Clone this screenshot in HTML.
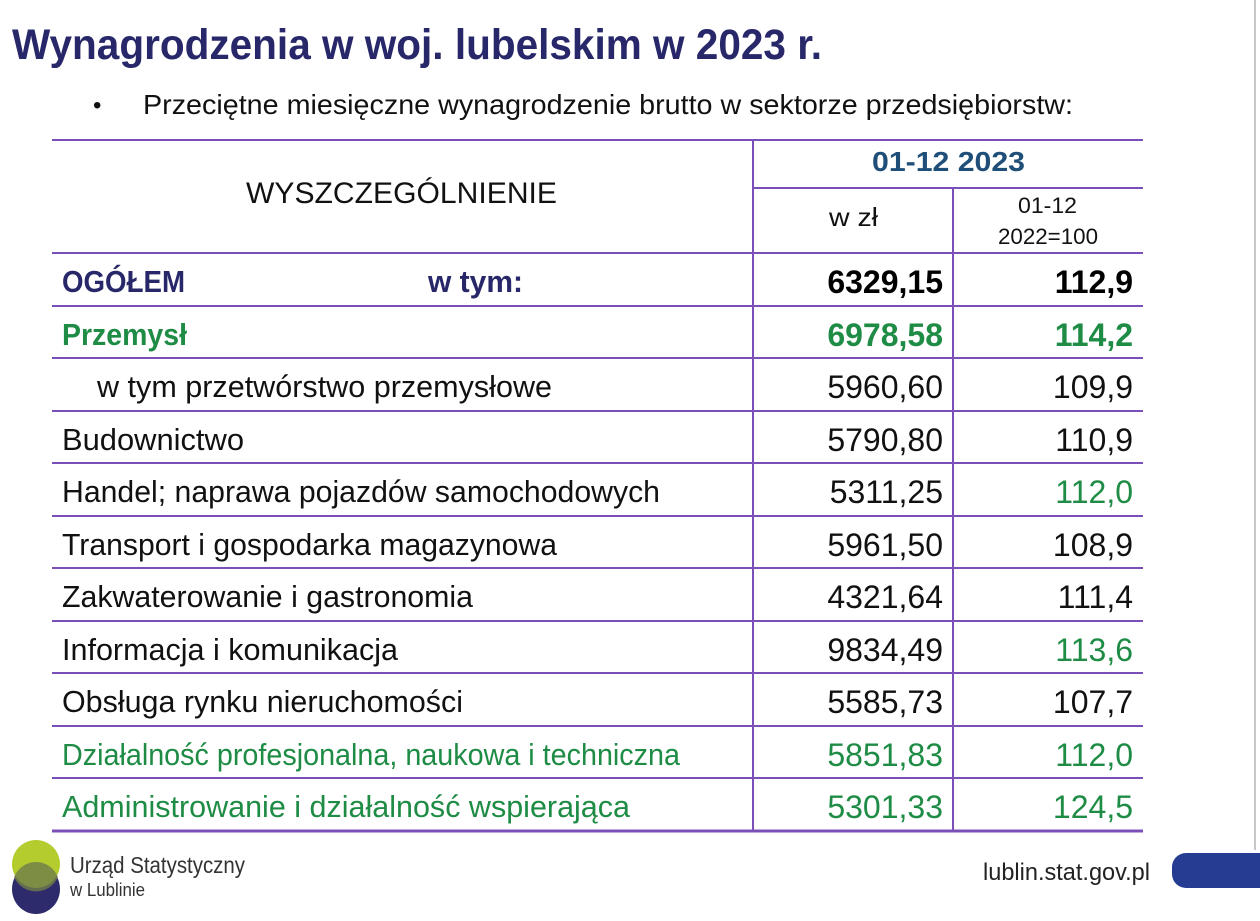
<!DOCTYPE html>
<html><head><meta charset="utf-8"><style>
html,body{margin:0;padding:0;background:#fff;width:1260px;height:921px;overflow:hidden}
svg{display:block}
text{font-family:"Liberation Sans",sans-serif}
</style></head><body>
<svg width="1260" height="921" viewBox="0 0 1260 921" xmlns="http://www.w3.org/2000/svg">
<rect width="1260" height="921" fill="#fff"/>
<line x1="1255" y1="0" x2="1255" y2="850" stroke="#c8c8c8" stroke-width="2"/>
<text x="12" y="59" font-size="43" font-weight="bold" fill="#272769" textLength="810" lengthAdjust="spacingAndGlyphs">Wynagrodzenia w woj. lubelskim w 2023 r.</text>
<text x="93" y="113" font-size="24" fill="#111">•</text>
<text x="143" y="114" font-size="28" fill="#111" textLength="930" lengthAdjust="spacingAndGlyphs">Przeciętne miesięczne wynagrodzenie brutto w sektorze przedsiębiorstw:</text>

<g stroke="#7a50b8" stroke-width="2">
<line x1="52" y1="140" x2="1143" y2="140"/>
<line x1="753" y1="188" x2="1143" y2="188"/>
<line x1="52" y1="253" x2="1143" y2="253"/>
<line x1="52" y1="306" x2="1143" y2="306"/>
<line x1="52" y1="358" x2="1143" y2="358"/>
<line x1="52" y1="411" x2="1143" y2="411"/>
<line x1="52" y1="463" x2="1143" y2="463"/>
<line x1="52" y1="516" x2="1143" y2="516"/>
<line x1="52" y1="568" x2="1143" y2="568"/>
<line x1="52" y1="621" x2="1143" y2="621"/>
<line x1="52" y1="673" x2="1143" y2="673"/>
<line x1="52" y1="726" x2="1143" y2="726"/>
<line x1="52" y1="778" x2="1143" y2="778"/>
<line x1="52" y1="831" x2="1143" y2="831" stroke-width="3"/>
<line x1="753" y1="140" x2="753" y2="831"/>
<line x1="953" y1="188" x2="953" y2="831"/>
</g>

<text x="246" y="203" font-size="30" fill="#111" textLength="311" lengthAdjust="spacingAndGlyphs">WYSZCZEGÓLNIENIE</text>
<text x="872" y="171" font-size="28" font-weight="bold" fill="#1f4e79" textLength="153" lengthAdjust="spacingAndGlyphs">01-12 2023</text>
<text x="829" y="226" font-size="26" fill="#111" textLength="49" lengthAdjust="spacingAndGlyphs">w zł</text>
<text x="1018" y="213" font-size="22" fill="#111" textLength="59" lengthAdjust="spacingAndGlyphs">01-12</text>
<text x="998" y="244" font-size="22" fill="#111" textLength="100" lengthAdjust="spacingAndGlyphs">2022=100</text>

<g font-size="31">
<text x="62" y="292" font-weight="bold" fill="#272769" textLength="123" lengthAdjust="spacingAndGlyphs">OGÓŁEM</text>
<text x="428" y="292" font-weight="bold" fill="#272769" textLength="95" lengthAdjust="spacingAndGlyphs">w tym:</text>
<text x="62" y="345" font-weight="bold" fill="#1e8c45" textLength="125" lengthAdjust="spacingAndGlyphs">Przemysł</text>
<text x="97" y="397" fill="#111" textLength="455" lengthAdjust="spacingAndGlyphs">w tym przetwórstwo przemysłowe</text>
<text x="62" y="450" fill="#111" textLength="182" lengthAdjust="spacingAndGlyphs">Budownictwo</text>
<text x="62" y="502" fill="#111" textLength="598" lengthAdjust="spacingAndGlyphs">Handel; naprawa pojazdów samochodowych</text>
<text x="62" y="555" fill="#111" textLength="495" lengthAdjust="spacingAndGlyphs">Transport i gospodarka magazynowa</text>
<text x="62" y="607" fill="#111" textLength="411" lengthAdjust="spacingAndGlyphs">Zakwaterowanie i gastronomia</text>
<text x="62" y="660" fill="#111" textLength="336" lengthAdjust="spacingAndGlyphs">Informacja i komunikacja</text>
<text x="62" y="712" fill="#111" textLength="401" lengthAdjust="spacingAndGlyphs">Obsługa rynku nieruchomości</text>
<text x="62" y="765" fill="#1e8c45" textLength="618" lengthAdjust="spacingAndGlyphs">Działalność profesjonalna, naukowa i techniczna</text>
<text x="62" y="817" fill="#1e8c45" textLength="568" lengthAdjust="spacingAndGlyphs">Administrowanie i działalność wspierająca</text>
</g>

<g font-size="32" text-anchor="end">
<text x="943" y="293" font-weight="bold" fill="#000">6329,15</text>
<text x="1133" y="293" font-weight="bold" fill="#000">112,9</text>
<text x="943" y="346" font-weight="bold" fill="#1e8c45">6978,58</text>
<text x="1133" y="346" font-weight="bold" fill="#1e8c45">114,2</text>
<text x="943" y="398" fill="#111">5960,60</text><text x="1133" y="398" fill="#111">109,9</text>
<text x="943" y="451" fill="#111">5790,80</text><text x="1133" y="451" fill="#111">110,9</text>
<text x="943" y="503" fill="#111">5311,25</text><text x="1133" y="503" fill="#1e8c45">112,0</text>
<text x="943" y="556" fill="#111">5961,50</text><text x="1133" y="556" fill="#111">108,9</text>
<text x="943" y="608" fill="#111">4321,64</text><text x="1133" y="608" fill="#111">111,4</text>
<text x="943" y="661" fill="#111">9834,49</text><text x="1133" y="661" fill="#1e8c45">113,6</text>
<text x="943" y="713" fill="#111">5585,73</text><text x="1133" y="713" fill="#111">107,7</text>
<text x="943" y="766" fill="#1e8c45">5851,83</text><text x="1133" y="766" fill="#1e8c45">112,0</text>
<text x="943" y="818" fill="#1e8c45">5301,33</text><text x="1133" y="818" fill="#1e8c45">124,5</text>
</g>

<ellipse cx="36" cy="889" rx="24" ry="25" fill="#2d2b6b"/>
<ellipse cx="36" cy="864" rx="24" ry="24" fill="#b5cc2e"/>
<path d="M14 877 A24 25 0 0 1 58 877 A24 24 0 0 1 14 877Z" fill="#6f7d4a" opacity="0.8"/>
<text x="70" y="873" font-size="23" fill="#333" textLength="175" lengthAdjust="spacingAndGlyphs">Urząd Statystyczny</text>
<text x="70" y="896" font-size="18" fill="#333" textLength="75" lengthAdjust="spacingAndGlyphs">w Lublinie</text>
<text x="983" y="880" font-size="24" fill="#222" textLength="167" lengthAdjust="spacingAndGlyphs">lublin.stat.gov.pl</text>
<rect x="1172" y="853" width="110" height="35" rx="14" fill="#253c92"/>
</svg>
</body></html>
